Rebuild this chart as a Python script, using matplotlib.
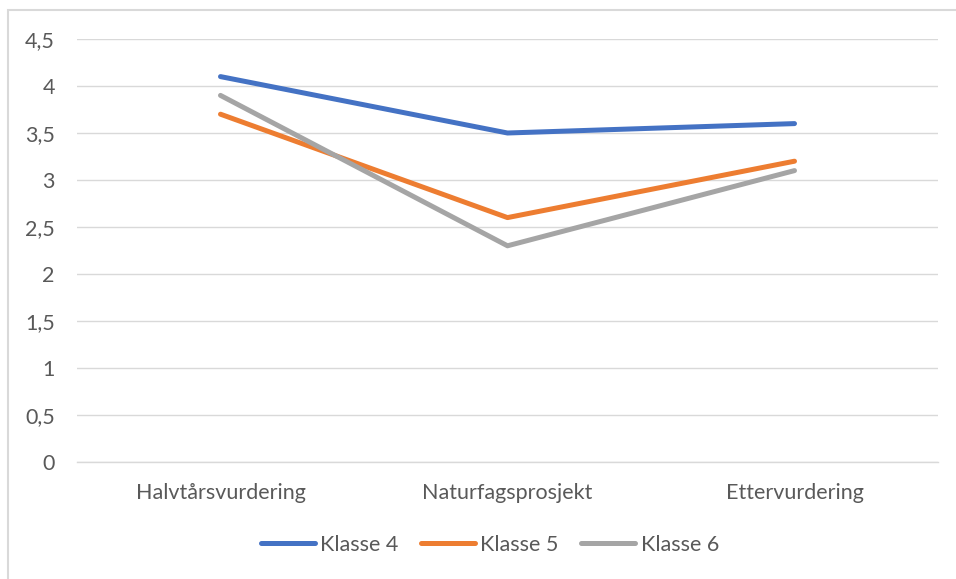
import matplotlib
matplotlib.use("Agg")
import matplotlib.pyplot as plt
from matplotlib.patches import Rectangle
from matplotlib.ticker import FuncFormatter

categories = ["Halvtårsvurdering", "Naturfagsprosjekt", "Ettervurdering"]
klasse4 = [4.1, 3.5, 3.6]
klasse5 = [3.7, 2.6, 3.2]
klasse6 = [3.9, 2.3, 3.1]
series_names = ["Klasse 4", "Klasse 5", "Klasse 6"]
colors = ["#4472C4", "#ED7D31", "#A5A5A5"]
y_ticks = [0, 0.5, 1, 1.5, 2, 2.5, 3, 3.5, 4, 4.5]

plt.rcParams["font.family"] = ["Lato", "DejaVu Sans"]
text_color = "#595959"

W, H = 956, 579
fig = plt.figure(figsize=(W / 100, H / 100), dpi=100)

# chart frame (extends past the right and bottom edges)
fig.patches.append(Rectangle((8 / W, -0.1), 1.2, (H - 10) / H + 0.1,
                             transform=fig.transFigure, fill=False,
                             edgecolor="#D9D9D9", linewidth=1.5))

ax = fig.add_axes([77 / W, (H - 462) / H, (938 - 77) / W, (462 - 39) / H])
x = range(len(categories))
for vals, name, c in zip([klasse4, klasse5, klasse6], series_names, colors):
    ax.plot(x, vals, color=c, linewidth=3.6, label=name,
            solid_capstyle="round", solid_joinstyle="round")

ax.set_xlim(-0.5, len(categories) - 0.5)
ax.set_ylim(0, 4.5)
ax.set_yticks(y_ticks)
ax.yaxis.set_major_formatter(FuncFormatter(lambda v, p: ("%g" % v).replace(".", ",")))
ax.set_xticks(list(x))
ax.set_xticklabels(categories)
ax.grid(axis="y", color="#D9D9D9", linewidth=1.0)
ax.set_axisbelow(True)
for s in ["top", "right", "left"]:
    ax.spines[s].set_visible(False)
ax.spines["bottom"].set_color("#D9D9D9")
ax.spines["bottom"].set_linewidth(1.0)
ax.tick_params(axis="both", length=0, labelsize=15.5, colors=text_color)
ax.tick_params(axis="y", pad=16)
ax.tick_params(axis="x", pad=15)

leg = fig.legend(loc="center", bbox_to_anchor=(490 / W, (H - 545) / H), ncol=3,
                 frameon=False, fontsize=15.5, handlelength=2.5, handletextpad=0.25,
                 columnspacing=1.05)
for t in leg.get_texts():
    t.set_color(text_color)

fig.savefig("out.png", dpi=100)
